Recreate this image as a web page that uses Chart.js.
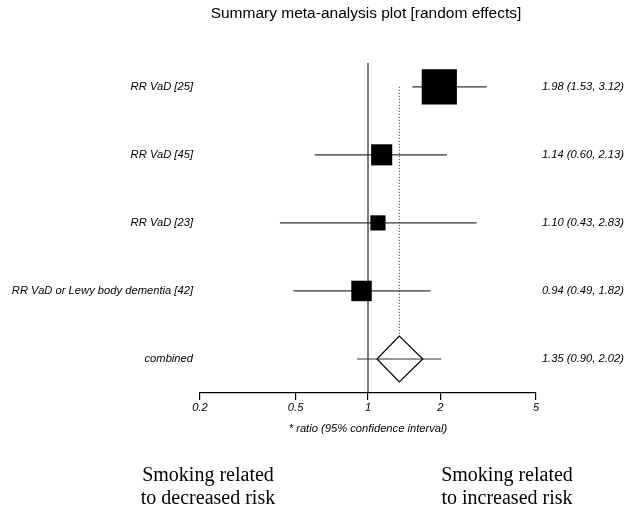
<!DOCTYPE html>
<html>
<head>
<meta charset="utf-8">
<script src="https://cdn.jsdelivr.net/npm/chart.js@4.4.1/dist/chart.umd.min.js"></script>
<style>
  html, body { margin: 0; padding: 0; background: #fff; }
  #wrap { width: 626px; height: 512px; position: relative; }
</style>
</head>
<body>
<div id="wrap"><canvas id="forest"></canvas></div>
<script>
const studyLabels = ['RR VaD [25]', 'RR VaD [45]', 'RR VaD [23]', 'RR VaD or Lewy body dementia [42]'];
const studyEst = [1.98, 1.14, 1.10, 0.94];
const studyLow = [1.53, 0.60, 0.43, 0.49];
const studyHigh = [3.12, 2.13, 2.83, 1.82];

const summaryLabel = 'combined';
const summaryEst = 1.35;
const summaryLow = 0.90;
const summaryHigh = 2.02;
const diamondLow = 1.09;
const diamondHigh = 1.69;

const tickValues = [0.2, 0.5, 1, 2, 5];

const sansItalic = 'italic 11.2px "Liberation Sans", Arial, sans-serif';
const fmt = v => v.toFixed(2);

// rows: first study at the top, combined at 1
const nRows = studyLabels.length + 1;
const studyRows = studyLabels.map((_, i) => nRows - i);
const summaryRow = 1;
const yMin = 0.5, yMax = nRows + 0.35;
const diamondHalf = 0.336;

// box side grows with precision (1/se from the CI)
const boxSide = studyLow.map((lo, i) => {
  const se = Math.log(studyHigh[i] / lo) / (2 * 1.96);
  return 3 + 5.85 / se;
});

const datasets = [];

datasets.push({
  label: 'boxes',
  data: studyEst.map((v, i) => ({ x: v, y: studyRows[i] })),
  pointStyle: 'rect',
  pointRadius: boxSide.map(s => s / (2 * Math.SQRT1_2)),
  backgroundColor: '#000',
  borderWidth: 0,
  showLine: false,
  order: 0
});

studyLabels.forEach((_, i) => {
  datasets.push({
    label: 'ci' + i,
    data: [{ x: studyLow[i], y: studyRows[i] }, { x: studyHigh[i], y: studyRows[i] }],
    showLine: true,
    borderColor: '#333',
    borderWidth: 1.2,
    pointRadius: 0,
    order: 2
  });
});

datasets.push({
  label: 'combined ci',
  data: [{ x: summaryLow, y: summaryRow }, { x: summaryHigh, y: summaryRow }],
  showLine: true,
  borderColor: '#333',
  borderWidth: 1.2,
  pointRadius: 0,
  order: 2
});

datasets.push({
  label: 'diamond',
  data: [
    { x: diamondLow, y: summaryRow },
    { x: summaryEst, y: summaryRow + diamondHalf },
    { x: diamondHigh, y: summaryRow },
    { x: summaryEst, y: summaryRow - diamondHalf },
    { x: diamondLow, y: summaryRow }
  ],
  showLine: true,
  borderColor: '#000',
  borderWidth: 1.2,
  pointRadius: 0,
  order: 1
});

datasets.push({
  label: 'null line',
  data: [{ x: 1, y: yMin }, { x: 1, y: yMax }],
  showLine: true,
  borderColor: '#222',
  borderWidth: 1.2,
  pointRadius: 0,
  order: 3
});

datasets.push({
  label: 'summary line',
  data: [{ x: summaryEst, y: studyRows[0] }, { x: summaryEst, y: summaryRow + diamondHalf }],
  showLine: true,
  borderColor: '#222',
  borderWidth: 1,
  borderDash: [1, 2],
  pointRadius: 0,
  order: 3
});

const textPlugin = {
  id: 'forestText',
  afterDraw(chart) {
    const ctx = chart.ctx;
    const y = chart.scales.y;
    const x = chart.scales.x;
    ctx.save();
    ctx.fillStyle = '#000';
    ctx.textBaseline = 'middle';

    ctx.font = '15.5px "Liberation Sans", Arial, sans-serif';
    ctx.textAlign = 'center';
    ctx.fillText('Summary meta-analysis plot [random effects]', 366, 14);

    ctx.font = sansItalic;
    ctx.textAlign = 'right';
    studyLabels.forEach((lab, i) => {
      const py = y.getPixelForValue(studyRows[i]);
      ctx.fillText(lab, 193, py);
      ctx.fillText(fmt(studyEst[i]) + ' (' + fmt(studyLow[i]) + ', ' + fmt(studyHigh[i]) + ')', 624, py);
    });
    const sy = y.getPixelForValue(summaryRow);
    ctx.fillText(summaryLabel, 193, sy);
    ctx.fillText(fmt(summaryEst) + ' (' + fmt(summaryLow) + ', ' + fmt(summaryHigh) + ')', 624, sy);

    ctx.textAlign = 'center';
    ctx.fillText('* ratio (95% confidence interval)', x.getPixelForValue(1), 429);

    ctx.font = '20px "Liberation Serif", "Times New Roman", serif';
    ctx.fillText('Smoking related', 208, 476);
    ctx.fillText('to decreased risk', 208, 499);
    ctx.fillText('Smoking related', 507, 476);
    ctx.fillText('to increased risk', 507, 499);
    ctx.restore();
  }
};

const ctx = document.getElementById('forest').getContext('2d');
new Chart(ctx, {
  type: 'scatter',
  data: { datasets: datasets },
  options: {
    responsive: true,
    maintainAspectRatio: false,
    animation: false,
    clip: false,
    layout: {
      padding: { left: 200, right: 90, top: 63, bottom: 93 }
    },
    scales: {
      x: {
        type: 'logarithmic',
        min: 0.2,
        max: 5,
        position: 'bottom',
        afterBuildTicks: (scale) => {
          scale.ticks = tickValues.map(v => ({ value: v }));
        },
        afterFit: (scale) => { scale.height = 26; },
        border: { display: true, color: '#000', width: 1.2 },
        grid: { drawOnChartArea: false, drawTicks: true, tickLength: 7, color: '#000', lineWidth: 1.2 },
        ticks: {
          autoSkip: false,
          maxRotation: 0,
          padding: 1,
          color: '#000',
          font: { family: '"Liberation Sans", Arial, sans-serif', size: 11.2, style: 'italic' },
          callback: (value) => String(value)
        }
      },
      y: {
        type: 'linear',
        min: yMin,
        max: yMax,
        display: false
      }
    },
    plugins: {
      legend: { display: false },
      tooltip: { enabled: false },
      title: { display: false }
    }
  },
  plugins: [textPlugin]
});
</script>
</body>
</html>
